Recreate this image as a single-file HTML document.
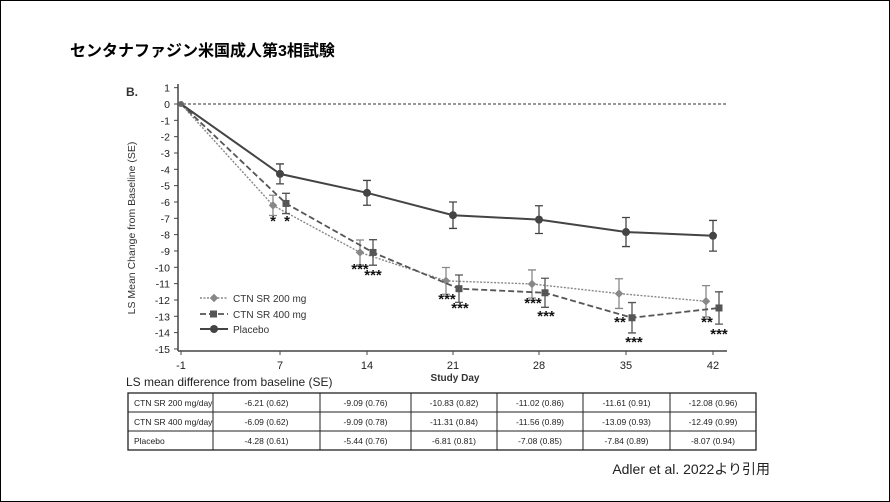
<!DOCTYPE html>
<html><head><meta charset="utf-8"><style>
body{margin:0;background:#fff;}
#w{position:relative;width:888px;height:500px;border:1px solid #000;overflow:hidden;font-family:"Liberation Sans","Noto Sans CJK JP",sans-serif;}
</style></head><body><div id="w">
<svg id="s" width="888" height="500" xmlns="http://www.w3.org/2000/svg" style="position:absolute;left:-1px;top:-1px">
<text x="70" y="56" font-size="16" font-weight="bold" font-family="Liberation Sans,Noto Sans CJK JP,sans-serif">センタナファジン米国成人第3相試験</text>
<text x="126" y="96" font-size="12" font-weight="bold" fill="#333">B.</text>
<text transform="translate(135,228) rotate(-90)" text-anchor="middle" font-size="10.5" fill="#333">LS Mean Change from Baseline (SE)</text>
<line x1="178" y1="84" x2="178" y2="351" stroke="#444" stroke-width="1.5"/>
<line x1="178" y1="351" x2="727" y2="351" stroke="#444" stroke-width="1.5"/>
<line x1="178" y1="104" x2="727" y2="104" stroke="#333" stroke-dasharray="3,2"/>
<g id="g"></g>
<text x="455" y="381" text-anchor="middle" font-size="10" font-weight="bold" fill="#333">Study Day</text>
<text x="126" y="386" font-size="12" fill="#222">LS mean difference from baseline (SE)</text>
<text x="770" y="474" text-anchor="end" font-size="14" fill="#222">Adler et al. 2022より引用</text>
</svg></div>
<script>
const g=document.getElementById('g');let h='';
const Y=v=>104-v*16.33;
for(let v=1;v>=-15;v--){const y=Y(v);h+=`<line x1="174" y1="${y}" x2="178" y2="${y}" stroke="#444"/><text x="170" y="${y+4}" text-anchor="end" font-size="10.5" fill="#222">${v}</text>`;}
const X={'-1':181,7:280,14:367,21:453,28:539,35:626,42:713};
for(const k in X){h+=`<line x1="${X[k]}" y1="351" x2="${X[k]}" y2="355" stroke="#444"/><text x="${X[k]}" y="369" text-anchor="middle" font-size="11" fill="#222">${k}</text>`;}
const days=[7,14,21,28,35,42];
const d2=[-6.21,-9.09,-10.83,-11.02,-11.61,-12.08],s2=[.62,.76,.82,.86,.91,.96];
const d4=[-6.09,-9.09,-11.31,-11.56,-13.09,-12.49],s4=[.62,.78,.84,.89,.93,.99];
const dp=[-4.28,-5.44,-6.81,-7.08,-7.84,-8.07],sp=[.61,.76,.81,.85,.89,.94];
function ser(d,s,off,col,dash,w,mk){let p=`M181,104`;d.forEach((v,i)=>p+=` L${X[days[i]]+off},${Y(v)}`);
h+=`<path d="${p}" fill="none" stroke="${col}" stroke-width="${w}" stroke-dasharray="${dash}"/>`;
d.forEach((v,i)=>{const x=X[days[i]]+off,y1=Y(v+s[i]),y2=Y(v-s[i]);h+=`<path d="M${x},${y1}V${y2}M${x-4},${y1}H${x+4}M${x-4},${y2}H${x+4}" stroke="${col}" stroke-width="1.3" fill="none"/>`;h+=mk(x,Y(v));});}
ser(d2,s2,-7,'#888','2,1.5',1.4,(x,y)=>`<rect x="${x-3}" y="${y-3}" width="6" height="6" fill="#888" transform="rotate(45 ${x} ${y})"/>`);
ser(d4,s4,6,'#555','6,3',1.8,(x,y)=>`<rect x="${x-3.5}" y="${y-3.5}" width="7" height="7" fill="#555"/>`);
ser(dp,sp,0,'#444','',2,(x,y)=>`<circle cx="${x}" cy="${y}" r="4" fill="#444"/>`);
h+=`<circle cx="181" cy="104" r="3" fill="#666"/>`;
const st=[[273,226,'*'],[287,226,'*'],[360,274,'***'],[373,280,'***'],[447,304,'***'],[460,313,'***'],[533,308,'***'],[546,321,'***'],[620,327,'**'],[634,347,'***'],[707,327,'**'],[719,339,'***']];
st.forEach(([x,y,t])=>h+=`<text x="${x}" y="${y}" text-anchor="middle" font-size="15" font-weight="bold" fill="#111">${t}</text>`);
h+=`<line x1="200" y1="298" x2="228" y2="298" stroke="#888" stroke-dasharray="2,1.5" stroke-width="1.4"/><rect x="211" y="295" width="6" height="6" fill="#888" transform="rotate(45 214 298)"/><text x="233" y="302" font-size="10" fill="#333">CTN SR 200 mg</text>`;
h+=`<line x1="200" y1="314" x2="228" y2="314" stroke="#555" stroke-dasharray="6,3" stroke-width="1.8"/><rect x="210" y="310.5" width="7" height="7" fill="#555"/><text x="233" y="318" font-size="10" fill="#333">CTN SR 400 mg</text>`;
h+=`<line x1="200" y1="329" x2="228" y2="329" stroke="#444" stroke-width="2"/><circle cx="214" cy="329" r="4" fill="#444"/><text x="233" y="333" font-size="10" fill="#333">Placebo</text>`;
const cols=[128,213,320,411,497,583,670,756],rows=[393,412,431,450];
h+=`<rect x="128" y="393" width="628" height="57" fill="none" stroke="#222" stroke-width="1.3"/>`;
cols.slice(1,-1).forEach(x=>h+=`<line x1="${x}" y1="393" x2="${x}" y2="450" stroke="#222"/>`);
rows.slice(1,-1).forEach(y=>h+=`<line x1="128" y1="${y}" x2="756" y2="${y}" stroke="#222"/>`);
const names=['CTN SR 200 mg/day','CTN SR 400 mg/day','Placebo'];
[[d2,s2],[d4,s4],[dp,sp]].forEach(([d,s],r)=>{const y=rows[r]+13;h+=`<text x="134" y="${y}" font-size="8.5" fill="#222">${names[r]}</text>`;
d.forEach((v,i)=>h+=`<text x="${(cols[i+1]+cols[i+2])/2}" y="${y}" text-anchor="middle" font-size="8.5" fill="#222">${v.toFixed(2)} (${s[i].toFixed(2)})</text>`);});
g.innerHTML=h;
</script>
</body></html>
